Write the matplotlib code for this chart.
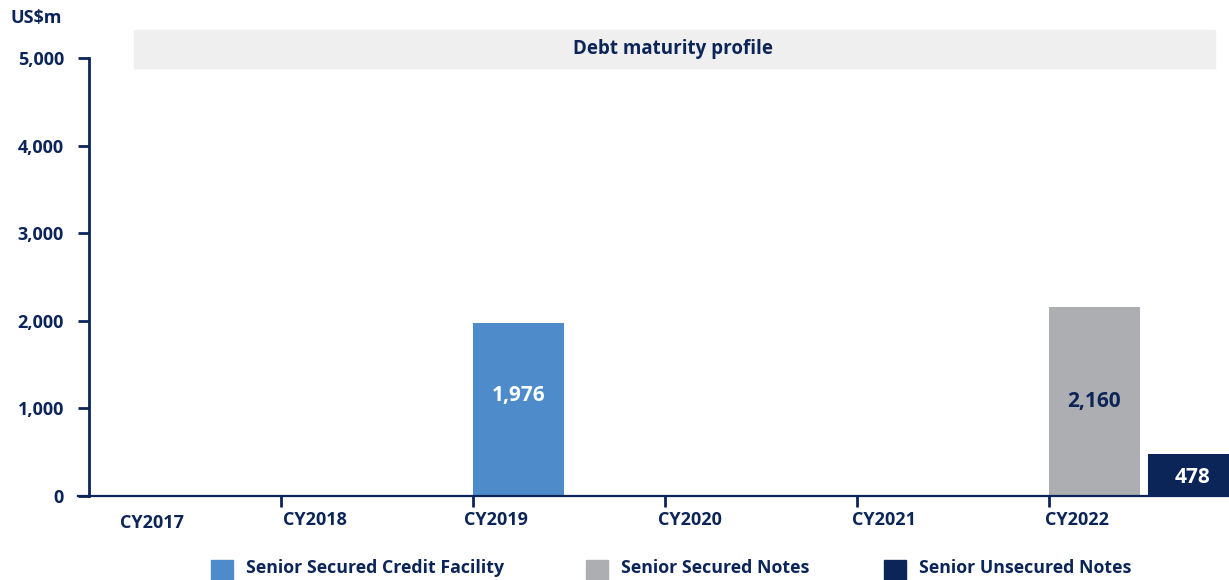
import numpy as np
import matplotlib

matplotlib.use("Agg")
import matplotlib.pyplot as plt
from matplotlib.patches import Rectangle

plt.rcParams["font.family"] = ["Open Sans", "DejaVu Sans"]
plt.rcParams["font.weight"] = "bold"

NAVY = "#0c2558"
BLUE = "#4d8bca"
GREY = "#adaeb2"
BAND = "#efefef"

categories = ["CY2017", "CY2018", "CY2019", "CY2020", "CY2021", "CY2022"]
series_names = ["Senior Secured Credit Facility", "Senior Secured Notes", "Senior Unsecured Notes"]
credit_facility = [0, 0, 1976, 0, 0, 0]
secured_notes = [0, 0, 0, 0, 0, 2160]
unsecured_notes = [0, 0, 0, 0, 0, 478]
y_ticks = [0, 1000, 2000, 3000, 4000, 5000]

series = [credit_facility, secured_notes, unsecured_notes]
colors = [BLUE, GREY, NAVY]
label_colors = ["white", NAVY, "white"]
offsets = [0.0, 0.0, 0.52]
label_y = [0.58, 0.5, 0.45]
label_dx = [0.5, 0.5, 0.48]   # fraction of visible bar width
BAR_W = 0.475

W, H = 1229, 580
fig = plt.figure(figsize=(W / 100, H / 100), dpi=100)
ax_left, ax_right, ax_bottom, ax_top = 78, 1229, 496, 58
ax = fig.add_axes([ax_left / W, (H - ax_bottom) / H,
                   (ax_right - ax_left) / W, (ax_bottom - ax_top) / H])

x = np.arange(len(categories))
for vals, col, lc, off, ly, lx in zip(series, colors, label_colors, offsets,
                                      label_y, label_dx):
    bars = ax.bar(x + off, vals, width=BAR_W, align="edge", color=col, zorder=2)
    for b, v in zip(bars, vals):
        if v > 0:
            ax.text(b.get_x() + b.get_width() * lx, v * ly, f"{v:,}",
                    ha="center", va="center", color=lc, fontsize=15,
                    fontweight="bold", zorder=3)

ax.set_xlim(-0.057, 5.94)
ax.set_ylim(0, 5000)
ax.spines[["top", "right"]].set_visible(False)
ax.spines["left"].set_position(("data", 0))
for s in ("left", "bottom"):
    ax.spines[s].set_color(NAVY)
    ax.spines[s].set_linewidth(2)
ax.spines["bottom"].set_linewidth(1.6)
ax.spines["bottom"].set_zorder(4)

ax.set_yticks(y_ticks)
ax.set_yticklabels([f"{v:,}" for v in y_ticks])
ax.tick_params(axis="y", length=8, width=2, color=NAVY, labelcolor=NAVY,
               labelsize=13, pad=10)
ax.set_xticks(x[1:])
ax.set_xticklabels([])
ax.tick_params(axis="x", length=8, width=2, color=NAVY)
for lbl in ax.get_yticklabels():
    lbl.set_fontweight("bold")

# category labels sit just right of the boundary ticks
label_pos = [0.33, 1.18, 2.12, 3.13, 4.14, 5.15]
label_dy = [-19.5, -17.5, -17.5, -17.5, -17.5, -17.5]
for cat, px, dy in zip(categories, label_pos, label_dy):
    ax.annotate(cat, (px, 0), xytext=(0, dy), textcoords="offset points",
                ha="center", va="center", color=NAVY, fontsize=13,
                fontweight="bold", annotation_clip=False)

# title band
fig.patches.append(Rectangle((134 / W, 1 - 68 / H), (1215 - 134) / W, 38 / H,
                             transform=fig.transFigure, color=BAND, zorder=0))
fig.text(673 / W, 1 - 49 / H, "Debt maturity profile", ha="center", va="center",
         color=NAVY, fontsize=13.5, fontweight="bold")
fig.text(10 / W, 1 - 18 / H, "US$m", ha="left", va="center",
         color=NAVY, fontsize=13, fontweight="bold")

# legend along the bottom edge
leg_x = [211, 586, 884]
for name, col, lx in zip(series_names, colors, leg_x):
    fig.patches.append(Rectangle((lx / W, 1 - 582 / H), 22 / W, 22 / H,
                                 transform=fig.transFigure, color=col))
    fig.text((lx + 35) / W, 1 - 568 / H, name, ha="left", va="center",
             color=NAVY, fontsize=12.8, fontweight="bold")

fig.savefig("out.png", dpi=100)
